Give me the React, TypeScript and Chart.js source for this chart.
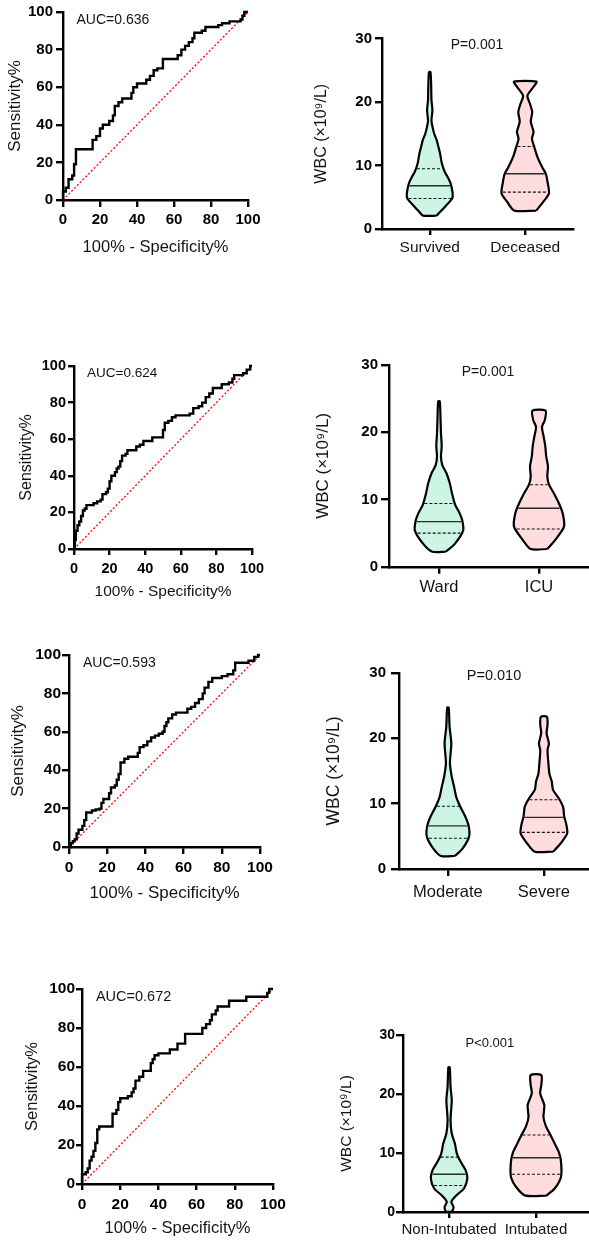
import React, { useEffect, useRef } from 'react';
import { Chart, registerables } from 'chart.js';

Chart.register(...registerables);

const FONT = '"Liberation Sans", Arial, Helvetica, sans-serif';
const INK = '#141414';

// ---------- ROC curves: vertices of the step curves (100% - specificity, sensitivity) ----------
const mortalityFpr = [0, 0, 1.5, 3, 5, 6, 7, 16, 18, 20, 21.5, 25, 27, 28, 30, 32, 37, 38, 40, 45, 47, 49, 51, 54, 62, 64, 66, 68, 70, 71, 75, 77, 84, 86, 90, 96, 97, 98, 100];
const mortalityTpr = [0, 4.5, 6.5, 11, 13, 19, 27, 32, 34, 38, 40, 42, 45, 50, 52, 54, 57, 60, 62, 64, 66, 69, 70, 75, 77, 80, 82, 84, 86, 89, 90, 92, 93, 94, 95, 96, 98, 100, 100];

const icuFpr = [0, 0.5, 1, 2, 3, 4, 5, 6, 7, 11, 13, 15, 16, 18, 19, 20, 21, 23, 24, 25, 26, 27, 29, 30, 34, 35, 37, 39, 42, 44, 49, 50, 51, 53, 55, 57, 64, 65, 67, 70, 72, 74, 76, 78, 81, 83, 86, 87, 89, 90, 93, 95, 97, 99, 100];
const icuTpr = [0, 5, 10, 13, 15, 18, 21, 22, 24, 25, 26, 27, 30, 31, 33, 37, 40, 42, 44, 45, 48, 51, 52, 54, 54, 56, 57, 59, 59, 61, 61, 65, 69, 70, 72, 73, 73, 74, 77, 78, 80, 83, 85, 88, 88, 90, 90, 91, 93, 95, 95, 96, 98, 100, 100];

const severityFpr = [0, 1, 2, 3, 4, 5, 7, 8, 9, 12, 14, 16, 17, 18, 20, 21, 22, 24, 25, 26, 27, 29, 31, 34, 36, 37, 39, 41, 43, 45, 47, 49, 50, 51, 52, 54, 56, 60, 62, 64, 66, 68, 70, 71, 73, 75, 78, 80, 83, 86, 87, 92, 94, 97, 99, 100];
const severityTpr = [0, 2, 3, 4, 7, 9, 11, 14, 18, 19, 19.5, 20, 23, 25, 25, 28, 31, 32, 35, 38, 44, 46, 47, 47, 49, 52, 53, 55, 57, 58, 59, 60, 63, 65, 67, 69, 70, 70, 72, 73, 75, 77, 80, 83, 86, 88, 88, 89, 90, 92, 96, 96, 97, 99, 100, 100];

const intubationFpr = [0, 0, 2, 3, 4, 5, 6, 7, 8, 9, 15, 16, 18, 19, 20, 24, 26, 27, 28, 30, 32, 35, 36, 37, 38, 40, 44, 46, 49, 50, 53, 54, 62, 63, 65, 67, 68, 70, 71, 75, 77, 84, 86, 96, 97, 98, 100];
const intubationTpr = [0, 5, 6, 8, 12, 14, 17, 21, 28, 29.5, 29.5, 36, 38, 42, 44, 45, 47, 49, 53, 55, 58, 58, 62, 64, 66, 67, 67, 69, 69, 72, 72, 77, 77, 80, 82, 84, 87, 89, 91, 91, 94, 94, 96, 96, 98, 100, 100];

const aucLabels = ['AUC=0.636', 'AUC=0.624', 'AUC=0.593', 'AUC=0.672'];
const rocTicks = [0, 20, 40, 60, 80, 100];

// ---------- WBC violins: outline levels (x10^9/L), half widths (category units), [Q1, median, Q3] ----------
const survivedLevels = [2.1, 2.7, 3.5, 4.8, 5.6, 7.2, 8.2, 9.0, 10.3, 11.9, 12.9, 14.0, 15.0, 16.0, 17.1, 18.7, 20.3, 22.5, 24.7];
const survivedHalf = [0.07, 0.11, 0.16, 0.235, 0.24, 0.218, 0.187, 0.157, 0.127, 0.108, 0.091, 0.073, 0.047, 0.03, 0.018, 0.028, 0.018, 0.015, 0.008];
const survivedStats = [4.8, 6.8, 9.5];

const deceasedLevels = [2.9, 4.3, 5.6, 7.2, 8.7, 9.8, 11.4, 13.0, 14.2, 15.3, 16.9, 18.4, 19.7, 21.0, 22.4, 23.2];
const deceasedHalf = [0.115, 0.19, 0.248, 0.236, 0.215, 0.175, 0.126, 0.093, 0.07, 0.087, 0.058, 0.073, 0.05, 0.023, 0.087, 0.117];
const deceasedStats = [5.8, 8.7, 13.0];

const wardLevels = [2.23, 3.4, 5.4, 6.9, 7.9, 9.2, 10.9, 12.4, 13.9, 15.1, 16.4, 17.9, 19.8, 22.0, 24.6];
const wardHalf = [0.067, 0.158, 0.242, 0.232, 0.208, 0.162, 0.13, 0.108, 0.075, 0.033, 0.02, 0.027, 0.02, 0.015, 0.008];
const wardStats = [5.0, 6.7, 9.4];

const icuLevels = [2.63, 4.0, 5.96, 7.94, 9.4, 10.9, 12.2, 13.4, 14.9, 16.4, 17.9, 19.3, 20.8, 21.8, 23.2];
const icuHalf = [0.083, 0.163, 0.25, 0.237, 0.2, 0.15, 0.1, 0.083, 0.09, 0.072, 0.063, 0.047, 0.03, 0.058, 0.065];
const icuStats = [5.6, 8.7, 12.2];

const moderateLevels = [1.99, 3.2, 4.96, 6.5, 8.0, 9.5, 11.0, 12.6, 14.1, 16.2, 19.2, 21.8, 24.7];
const moderateHalf = [0.073, 0.156, 0.22, 0.217, 0.182, 0.13, 0.087, 0.064, 0.04, 0.021, 0.035, 0.017, 0.008];
const moderateStats = [4.7, 6.6, 9.6];

const severeLevels = [2.65, 3.9, 5.46, 7.0, 8.0, 9.5, 10.8, 12.1, 13.4, 14.6, 16.2, 18.2, 19.2, 20.8, 22.1, 23.3];
const severeHalf = [0.095, 0.174, 0.243, 0.231, 0.212, 0.2, 0.156, 0.095, 0.082, 0.057, 0.047, 0.038, 0.052, 0.028, 0.038, 0.031];
const severeStats = [5.6, 7.9, 10.6];

const nonIntubatedLevels = [0.05, 0.8, 1.75, 2.9, 3.98, 5.7, 7.1, 8.5, 9.9, 11.6, 13.3, 15.6, 18.9, 21.2, 24.5];
const nonIntubatedHalf = [0.034, 0.052, 0.027, 0.09, 0.172, 0.21, 0.19, 0.134, 0.09, 0.067, 0.031, 0.017, 0.031, 0.017, 0.008];
const nonIntubatedStats = [4.5, 6.4, 9.3];

const intubatedLevels = [2.77, 3.98, 5.9, 8.2, 9.95, 11.6, 13.05, 14.5, 16.1, 18.1, 20.1, 21.5, 23.2];
const intubatedHalf = [0.12, 0.215, 0.287, 0.29, 0.268, 0.215, 0.167, 0.115, 0.086, 0.096, 0.048, 0.061, 0.061];
const intubatedStats = [6.4, 9.2, 13.05];

const groupNames = [
  ['Survived', 'Deceased'],
  ['Ward', 'ICU'],
  ['Moderate', 'Severe'],
  ['Non-Intubated', 'Intubated'],
];
const pLabels = ['P=0.001', 'P=0.001', 'P=0.010', 'P<0.001'];
const wbcTicks = [0, 10, 20, 30];

const MINT = '#ccf5e4';
const PINK = '#ffdcde';

// ---------- layout ----------
type Box = { left: number; top: number; width: number; height: number };
type Area = { l: number; t: number; r: number; b: number };

interface RocLayout {
  box: Box;
  area: Area;
  tickSize: number;
  tickLen: number;
  xTickMid: number;
  yTickRight: number;
  xTitleSize: number;
  xTitleMid: number;
  yTitleSize: number;
  yTitleMid: number;
  noteSize: number;
}

interface ViolinLayout {
  box: Box;
  area: Area;
  xMin: number;
  xMax: number;
  tickSize: number;
  tickLen: number;
  yTickRight: number;
  catSize: number;
  catTickLen: number;
  catMid: number;
  yTitleSize: number;
  yTitleMid: number;
  noteSize: number;
  noteX: number;
  noteY: number;
}

const rocLayouts: RocLayout[] = [
  { box: { left: 0, top: 0, width: 295, height: 262 }, area: { l: 63, t: 12, r: 248, b: 200 }, tickSize: 15, tickLen: 7, xTickMid: 220, yTickRight: 53, xTitleSize: 16.5, xTitleMid: 247, yTitleSize: 17, yTitleMid: 15, noteSize: 14 },
  { box: { left: 0, top: 300, width: 295, height: 312 }, area: { l: 74, t: 366, r: 252, b: 549 }, tickSize: 14.5, tickLen: 6, xTickMid: 569, yTickRight: 66, xTitleSize: 15.5, xTitleMid: 592, yTitleSize: 16, yTitleMid: 27, noteSize: 13.5 },
  { box: { left: 0, top: 620, width: 295, height: 300 }, area: { l: 69, t: 655, r: 260, b: 847 }, tickSize: 15.5, tickLen: 7, xTickMid: 868, yTickRight: 61, xTitleSize: 17, xTitleMid: 893, yTitleSize: 17, yTitleMid: 18, noteSize: 14 },
  { box: { left: 0, top: 940, width: 295, height: 300 }, area: { l: 82, t: 989, r: 273, b: 1184 }, tickSize: 15.5, tickLen: 6, xTickMid: 1205, yTickRight: 75, xTitleSize: 16.5, xTitleMid: 1228, yTitleSize: 16.5, yTitleMid: 32, noteSize: 14.5 },
];

const violinLayouts: ViolinLayout[] = [
  { box: { left: 296, top: 0, width: 293, height: 262 }, area: { l: 382, t: 38.5, r: 573, b: 229 }, xMin: -0.5, xMax: 1.5, tickSize: 15, tickLen: 7, yTickRight: 372, catSize: 15.5, catTickLen: 6, catMid: 248, yTitleSize: 16, yTitleMid: 322, noteSize: 14, noteX: 0.495, noteY: 29 },
  { box: { left: 296, top: 300, width: 293, height: 312 }, area: { l: 389, t: 365, r: 589, b: 566.7 }, xMin: -0.5, xMax: 1.5, tickSize: 15, tickLen: 8, yTickRight: 378, catSize: 16.5, catTickLen: 7, catMid: 587, yTitleSize: 17, yTitleMid: 323, noteSize: 14, noteX: 0.49, noteY: 29 },
  { box: { left: 296, top: 640, width: 293, height: 272 }, area: { l: 399, t: 673, r: 589, b: 869 }, xMin: -0.51, xMax: 1.47, tickSize: 15, tickLen: 8, yTickRight: 386, catSize: 16.5, catTickLen: 7, catMid: 892, yTitleSize: 17.5, yTitleMid: 334, noteSize: 14.5, noteX: 0.48, noteY: 29.5 },
  { box: { left: 296, top: 960, width: 293, height: 280 }, area: { l: 403, t: 1035, r: 589, b: 1212 }, xMin: -0.53, xMax: 1.61, tickSize: 14, tickLen: 7, yTickRight: 395, catSize: 15, catTickLen: 6, catMid: 1230, yTitleSize: 15.5, yTitleMid: 347, noteSize: 13, noteX: 0.47, noteY: 28.6 },
];

// ---------- helpers ----------
const notePlugin = {
  id: 'note',
  afterDatasetsDraw(chart: any, _args: any, opts: any) {
    if (!opts || !opts.text) return;
    const { ctx } = chart;
    const x = chart.scales.x.getPixelForValue(opts.x);
    const y = chart.scales.y.getPixelForValue(opts.y);
    ctx.save();
    ctx.font = `${opts.size}px ${FONT}`;
    ctx.fillStyle = INK;
    ctx.textAlign = opts.align || 'center';
    ctx.textBaseline = 'middle';
    ctx.fillText(opts.text, x, y);
    ctx.restore();
  },
};

function axisLines(tickLen: number) {
  return {
    grid: {
      display: true,
      drawOnChartArea: false,
      drawTicks: true,
      tickLength: tickLen,
      tickWidth: 2.4,
      tickColor: '#000',
      color: '#000',
      lineWidth: 2.4,
    },
    border: { display: true, color: '#000', width: 2.4 },
  };
}

function halfWidthAt(levels: number[], half: number[], v: number) {
  for (let i = 1; i < levels.length; i++) {
    if (v <= levels[i]) {
      const t = (v - levels[i - 1]) / (levels[i] - levels[i - 1]);
      return half[i - 1] + t * (half[i] - half[i - 1]);
    }
  }
  return half[half.length - 1];
}

function rocConfig(L: RocLayout, fpr: number[], tpr: number[], auc: string): any {
  const { box, area } = L;
  const bottom = box.top + box.height;
  const tickFont = { family: FONT, size: L.tickSize, weight: 'bold' };
  return {
    type: 'line',
    data: {
      datasets: [
        {
          label: 'ROC',
          data: fpr.map((x, i) => ({ x, y: tpr[i] })),
          stepped: 'before',
          borderColor: '#000',
          borderWidth: 2.4,
          pointRadius: 0,
          fill: false,
          clip: false,
          order: 0,
        },
        {
          label: 'Reference',
          data: [
            { x: 0, y: 0 },
            { x: 100, y: 100 },
          ],
          borderColor: '#ff0000',
          borderWidth: 1.3,
          borderDash: [2, 2],
          pointRadius: 0,
          fill: false,
          order: 1,
        },
      ],
    },
    options: {
      responsive: false,
      animation: false,
      events: [],
      layout: { padding: { top: area.t - box.top, right: box.left + box.width - area.r, bottom: 0, left: 0 } },
      plugins: {
        legend: { display: false },
        tooltip: { enabled: false },
        colors: { enabled: false },
        note: { text: auc, x: 7.3, y: 95.8, size: L.noteSize, align: 'left' },
      },
      scales: {
        x: {
          type: 'linear',
          min: 0,
          max: 100,
          afterBuildTicks: (s: any) => {
            s.ticks = rocTicks.map((value) => ({ value }));
          },
          ticks: {
            font: tickFont,
            color: '#000',
            padding: L.xTickMid - area.b - L.tickLen - L.tickSize * 0.6,
            maxRotation: 0,
            autoSkip: false,
          },
          ...axisLines(L.tickLen),
          title: {
            display: true,
            text: '100% - Specificity%',
            color: INK,
            font: { family: FONT, size: L.xTitleSize },
            padding: { top: 0, bottom: bottom - L.xTitleMid - L.xTitleSize * 0.6 },
          },
          afterFit: (s: any) => {
            s.height = bottom - area.b;
          },
        },
        y: {
          type: 'linear',
          min: 0,
          max: 100,
          afterBuildTicks: (s: any) => {
            s.ticks = rocTicks.map((value) => ({ value }));
          },
          ticks: {
            font: tickFont,
            color: '#000',
            padding: area.l - L.tickLen - L.yTickRight,
            autoSkip: false,
          },
          ...axisLines(L.tickLen),
          title: {
            display: true,
            text: 'Sensitivity%',
            color: INK,
            font: { family: FONT, size: L.yTitleSize },
            padding: { top: L.yTitleMid - box.left - L.yTitleSize * 0.6, bottom: 0 },
          },
          afterFit: (s: any) => {
            s.width = area.l - box.left;
          },
        },
      },
    },
    plugins: [notePlugin],
  };
}

type ViolinGroup = { levels: number[]; half: number[]; stats: number[]; color: string };

function violinConfig(L: ViolinLayout, groups: ViolinGroup[], names: string[], pText: string): any {
  const { box, area } = L;
  const bottom = box.top + box.height;
  const datasets: any[] = [];
  groups.forEach((g, i) => {
    const right = g.levels.map((v, k) => ({ x: i + g.half[k], y: v }));
    const left = g.levels.map((v, k) => ({ x: i - g.half[k], y: v })).reverse();
    datasets.push({
      label: names[i],
      data: [...right, ...left, right[0]],
      fill: 'shape',
      backgroundColor: g.color,
      borderColor: '#000',
      borderWidth: 2.2,
      borderJoinStyle: 'round',
      tension: 0.25,
      pointRadius: 0,
      order: 2,
    });
    g.stats.forEach((v, k) => {
      const w = halfWidthAt(g.levels, g.half, v) - 0.012;
      datasets.push({
        label: `${names[i]}-${k}`,
        data: [
          { x: i - w, y: v },
          { x: i + w, y: v },
        ],
        borderColor: k === 1 ? '#2a2a2a' : '#111',
        borderWidth: k === 1 ? 1.4 : 1.1,
        borderDash: k === 1 ? [] : [3, 2],
        pointRadius: 0,
        fill: false,
        order: 1,
      });
    });
  });

  return {
    type: 'line',
    data: { datasets },
    options: {
      responsive: false,
      animation: false,
      events: [],
      layout: { padding: { top: area.t - box.top, right: box.left + box.width - area.r, bottom: 0, left: 0 } },
      plugins: {
        legend: { display: false },
        tooltip: { enabled: false },
        colors: { enabled: false },
        note: { text: pText, x: L.noteX, y: L.noteY, size: L.noteSize, align: 'center' },
      },
      scales: {
        x: {
          type: 'linear',
          min: L.xMin,
          max: L.xMax,
          afterBuildTicks: (s: any) => {
            s.ticks = names.map((_n, value) => ({ value }));
          },
          ticks: {
            callback: (_v: any, i: number) => names[i],
            font: { family: FONT, size: L.catSize },
            color: INK,
            padding: L.catMid - area.b - L.catTickLen - L.catSize * 0.6,
            maxRotation: 0,
            autoSkip: false,
          },
          ...axisLines(L.catTickLen),
          afterFit: (s: any) => {
            s.height = bottom - area.b;
          },
        },
        y: {
          type: 'linear',
          min: 0,
          max: 30,
          afterBuildTicks: (s: any) => {
            s.ticks = wbcTicks.map((value) => ({ value }));
          },
          ticks: {
            font: { family: FONT, size: L.tickSize, weight: 'bold' },
            color: '#000',
            padding: area.l - L.tickLen - L.yTickRight,
            autoSkip: false,
          },
          ...axisLines(L.tickLen),
          title: {
            display: true,
            text: 'WBC (×10⁹/L)',
            color: INK,
            font: { family: FONT, size: L.yTitleSize },
            padding: { top: L.yTitleMid - box.left - L.yTitleSize * 0.6, bottom: 0 },
          },
          afterFit: (s: any) => {
            s.width = area.l - box.left;
          },
        },
      },
    },
    plugins: [notePlugin],
  };
}

// ---------- panels ----------
const rocSeries = [
  [mortalityFpr, mortalityTpr],
  [icuFpr, icuTpr],
  [severityFpr, severityTpr],
  [intubationFpr, intubationTpr],
];

const violinSeries: ViolinGroup[][] = [
  [
    { levels: survivedLevels, half: survivedHalf, stats: survivedStats, color: MINT },
    { levels: deceasedLevels, half: deceasedHalf, stats: deceasedStats, color: PINK },
  ],
  [
    { levels: wardLevels, half: wardHalf, stats: wardStats, color: MINT },
    { levels: icuLevels, half: icuHalf, stats: icuStats, color: PINK },
  ],
  [
    { levels: moderateLevels, half: moderateHalf, stats: moderateStats, color: MINT },
    { levels: severeLevels, half: severeHalf, stats: severeStats, color: PINK },
  ],
  [
    { levels: nonIntubatedLevels, half: nonIntubatedHalf, stats: nonIntubatedStats, color: MINT },
    { levels: intubatedLevels, half: intubatedHalf, stats: intubatedStats, color: PINK },
  ],
];

function PanelCanvas({ box, build }: { box: Box; build: () => any }) {
  const ref = useRef<HTMLCanvasElement>(null);
  useEffect(() => {
    if (!ref.current) return;
    const chart = new Chart(ref.current, build());
    return () => chart.destroy();
  }, []);
  return (
    <canvas
      ref={ref}
      width={box.width}
      height={box.height}
      style={{ position: 'absolute', left: box.left, top: box.top, width: box.width, height: box.height }}
    />
  );
}

export default function App() {
  const panels: { box: Box; build: () => any }[] = [];
  for (let r = 0; r < 4; r++) {
    panels.push({
      box: rocLayouts[r].box,
      build: () => rocConfig(rocLayouts[r], rocSeries[r][0], rocSeries[r][1], aucLabels[r]),
    });
    panels.push({
      box: violinLayouts[r].box,
      build: () => violinConfig(violinLayouts[r], violinSeries[r], groupNames[r], pLabels[r]),
    });
  }
  return (
    <div
      style={{ position: 'absolute', left: 0, top: 0, width: 589, height: 1240, background: '#fff', overflow: 'hidden' }}
    >
      {panels.map((p, i) => (
        <PanelCanvas key={i} box={p.box} build={p.build} />
      ))}
    </div>
  );
}
